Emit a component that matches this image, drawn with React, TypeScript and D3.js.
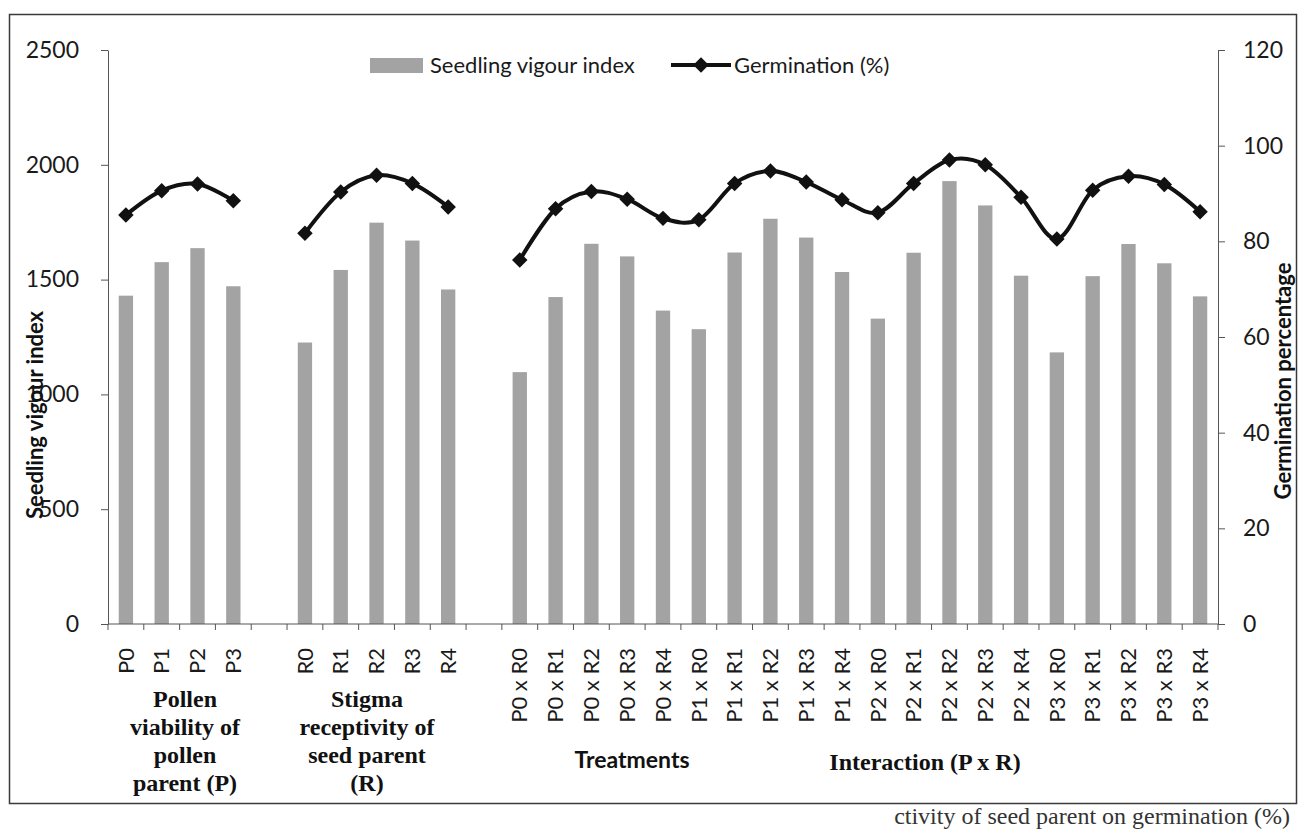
import React, { useEffect, useRef } from "react";
import * as d3 from "d3";

// Pollen viability of pollen parent (P)
const pollenLabels = ["P0", "P1", "P2", "P3"];
const pollenVigour = [1430, 1576, 1637, 1471];
const pollenGermination = [85.5, 90.6, 92.0, 88.5];

// Stigma receptivity of seed parent (R)
const stigmaLabels = ["R0", "R1", "R2", "R3", "R4"];
const stigmaVigour = [1226, 1542, 1748, 1670, 1457];
const stigmaGermination = [81.7, 90.3, 93.8, 92.1, 87.2];

// Interaction (P x R)
const interactionLabels = [
  "P0 x R0", "P0 x R1", "P0 x R2", "P0 x R3", "P0 x R4",
  "P1 x R0", "P1 x R1", "P1 x R2", "P1 x R3", "P1 x R4",
  "P2 x R0", "P2 x R1", "P2 x R2", "P2 x R3", "P2 x R4",
  "P3 x R0", "P3 x R1", "P3 x R2", "P3 x R3", "P3 x R4",
];
const interactionVigour = [
  1097, 1424, 1656, 1601, 1365,
  1284, 1618, 1765, 1683, 1533,
  1330, 1617, 1929, 1823, 1517,
  1183, 1515, 1655, 1571, 1427,
];
const interactionGermination = [
  76.1, 86.8, 90.4, 88.8, 84.8,
  84.5, 92.1, 94.7, 92.4, 88.7,
  86.0, 92.1, 97.0, 96.0, 89.2,
  80.5, 90.7, 93.6, 91.9, 86.2,
];

const vigourTicks = [0, 500, 1000, 1500, 2000, 2500];
const germinationTicks = [0, 20, 40, 60, 80, 100, 120];

type Row = { key: string; label: string; vigour: number | null; germ: number | null };

const toRows = (labels: string[], vig: number[], germ: number[]): Row[] =>
  labels.map((l, i) => ({ key: l, label: l, vigour: vig[i], germ: germ[i] }));

const gap = (k: string): Row => ({ key: k, label: "", vigour: null, germ: null });

const App: React.FC = () => {
  const svgRef = useRef<SVGSVGElement | null>(null);

  useEffect(() => {
    const rows: Row[] = [
      ...toRows(pollenLabels, pollenVigour, pollenGermination),
      gap("gap1"),
      ...toRows(stigmaLabels, stigmaVigour, stigmaGermination),
      gap("gap2"),
      ...toRows(interactionLabels, interactionVigour, interactionGermination),
    ];

    const width = 1301;
    const height = 830;
    const margin = { top: 50, right: 83, bottom: 206, left: 108 };
    const baseline = height - margin.bottom;
    const sans = "Lato, 'Open Sans', sans-serif";
    const serif = "'Liberation Serif', 'DejaVu Serif', serif";

    const svg = d3.select(svgRef.current);
    svg.selectAll("*").remove();

    // white page + chart border
    svg.append("rect").attr("width", width).attr("height", height).attr("fill", "#fff");
    svg
      .append("rect")
      .attr("x", 9.5)
      .attr("y", 14.5)
      .attr("width", 1287)
      .attr("height", 789)
      .attr("fill", "none")
      .attr("stroke", "#3a3a3a")
      .attr("stroke-width", 1.5);

    const xScale = d3
      .scaleBand()
      .domain(rows.map((d) => d.key))
      .range([margin.left, width - margin.right]);

    const yLeft = d3.scaleLinear().domain([0, 2500]).range([baseline, margin.top]);
    const yRight = d3.scaleLinear().domain([0, 120]).range([baseline, margin.top]);

    const barW = xScale.bandwidth() / 2.5;
    const cx = (d: Row) => xScale(d.key)! + xScale.bandwidth() / 2;

    // bars
    svg
      .selectAll("rect.bar")
      .data(rows.filter((d) => d.vigour != null))
      .enter()
      .append("rect")
      .attr("class", "bar")
      .attr("x", (d) => cx(d) - barW / 2)
      .attr("y", (d) => yLeft(d.vigour!))
      .attr("width", barW)
      .attr("height", (d) => baseline - yLeft(d.vigour!))
      .attr("fill", "#a3a3a3");

    // left axis
    const leftAxis = svg
      .append("g")
      .attr("transform", `translate(${margin.left},0)`)
      .call(
        d3
          .axisLeft(yLeft)
          .tickValues(vigourTicks)
          .tickFormat(d3.format("d"))
          .tickSize(7)
          .tickSizeOuter(0)
          .tickPadding(22)
      );
    leftAxis.select(".domain").attr("stroke", "#555");
    leftAxis.selectAll(".tick line").attr("stroke", "#555");
    leftAxis
      .selectAll("text")
      .attr("font-family", sans)
      .attr("font-size", 23)
      .attr("fill", "#1a1a1a");

    // right axis
    const rightAxis = svg
      .append("g")
      .attr("transform", `translate(${width - margin.right},0)`)
      .call(
        d3
          .axisRight(yRight)
          .tickValues(germinationTicks)
          .tickFormat(d3.format("d"))
          .tickSize(7)
          .tickSizeOuter(0)
          .tickPadding(18)
      );
    rightAxis.select(".domain").attr("stroke", "#555");
    rightAxis.selectAll(".tick line").attr("stroke", "#555");
    rightAxis
      .selectAll("text")
      .attr("font-family", sans)
      .attr("font-size", 23)
      .attr("fill", "#1a1a1a");

    // category axis line and ticks at band edges
    svg
      .append("line")
      .attr("x1", margin.left)
      .attr("x2", width - margin.right)
      .attr("y1", baseline)
      .attr("y2", baseline)
      .attr("stroke", "#555");
    svg
      .selectAll("line.ctick")
      .data([...rows.map((d) => xScale(d.key)!), width - margin.right])
      .enter()
      .append("line")
      .attr("class", "ctick")
      .attr("x1", (d) => d)
      .attr("x2", (d) => d)
      .attr("y1", baseline)
      .attr("y2", baseline + 6)
      .attr("stroke", "#555");

    svg
      .selectAll("text.cat")
      .data(rows.filter((d) => d.label))
      .enter()
      .append("text")
      .attr("class", "cat")
      .attr("transform", (d) => `translate(${cx(d)},${baseline + 24}) rotate(-90)`)
      .attr("text-anchor", "end")
      .attr("dy", "0.35em")
      .attr("font-family", sans)
      .attr("font-size", 22)
      .attr("fill", "#1a1a1a")
      .text((d) => d.label);

    // germination line (smoothed, broken at the blank categories)
    const line = d3
      .line<Row>()
      .defined((d) => d.germ != null)
      .x((d) => cx(d))
      .y((d) => yRight(d.germ!))
      .curve(d3.curveCardinal.tension(0));

    svg
      .append("path")
      .datum(rows)
      .attr("d", line)
      .attr("fill", "none")
      .attr("stroke", "#111")
      .attr("stroke-width", 4);

    const diamond = d3.symbol().type(d3.symbolSquare).size(120);
    svg
      .selectAll("path.marker")
      .data(rows.filter((d) => d.germ != null))
      .enter()
      .append("path")
      .attr("class", "marker")
      .attr("d", diamond)
      .attr("transform", (d) => `translate(${cx(d)},${yRight(d.germ!)}) rotate(45)`)
      .attr("fill", "#111");

    // legend
    const legend = svg.append("g");
    legend
      .append("rect")
      .attr("x", 370)
      .attr("y", 58)
      .attr("width", 53)
      .attr("height", 15)
      .attr("fill", "#a3a3a3");
    legend
      .append("text")
      .attr("x", 430)
      .attr("y", 73)
      .attr("font-family", sans)
      .attr("font-size", 22)
      .attr("fill", "#1a1a1a")
      .text("Seedling vigour index");
    legend
      .append("line")
      .attr("x1", 671)
      .attr("x2", 731)
      .attr("y1", 65)
      .attr("y2", 65)
      .attr("stroke", "#111")
      .attr("stroke-width", 4);
    legend
      .append("path")
      .attr("d", diamond)
      .attr("transform", "translate(701,65) rotate(45)")
      .attr("fill", "#111");
    legend
      .append("text")
      .attr("x", 734)
      .attr("y", 73)
      .attr("font-family", sans)
      .attr("font-size", 22)
      .attr("fill", "#1a1a1a")
      .text("Germination (%)");

    // axis titles
    svg
      .append("text")
      .attr("transform", `translate(43,415) rotate(-90)`)
      .attr("text-anchor", "middle")
      .attr("font-family", sans)
      .attr("font-weight", "bold")
      .attr("font-size", 22)
      .attr("fill", "#111")
      .text("Seedling vigour index");
    svg
      .append("text")
      .attr("transform", `translate(1291,381) rotate(-90)`)
      .attr("text-anchor", "middle")
      .attr("font-family", sans)
      .attr("font-weight", "bold")
      .attr("font-size", 22)
      .attr("fill", "#111")
      .text("Germination percentage");

    // group captions under the category labels
    const groupText = (x: number, lines: string[]) => {
      const t = svg
        .append("text")
        .attr("text-anchor", "middle")
        .attr("font-family", serif)
        .attr("font-weight", "bold")
        .attr("font-size", 24)
        .attr("fill", "#111");
      lines.forEach((l, i) => {
        t.append("tspan").attr("x", x).attr("y", 707 + i * 28).text(l);
      });
    };
    groupText(185, ["Pollen", "viability of", "pollen", "parent  (P)"]);
    groupText(367, ["Stigma", "receptivity of", "seed parent", "(R)"]);

    svg
      .append("text")
      .attr("x", 632)
      .attr("y", 768)
      .attr("text-anchor", "middle")
      .attr("font-family", sans)
      .attr("font-weight", "bold")
      .attr("font-size", 23)
      .attr("fill", "#111")
      .text("Treatments");
    svg
      .append("text")
      .attr("x", 925)
      .attr("y", 770)
      .attr("text-anchor", "middle")
      .attr("font-family", serif)
      .attr("font-weight", "bold")
      .attr("font-size", 24)
      .attr("fill", "#111")
      .text("Interaction (P x R)");

    // figure caption below the chart frame
    svg
      .append("text")
      .attr("x", 1290)
      .attr("y", 824)
      .attr("text-anchor", "end")
      .attr("font-family", serif)
      .attr("font-size", 24)
      .attr("fill", "#333")
      .text("ctivity of seed parent on germination (%)");
  }, []);

  return (
    <div>
      <svg
        ref={svgRef}
        width={1301}
        height={830}
        style={{ position: "absolute", left: 0, top: 0 }}
      ></svg>
    </div>
  );
};

export default App;
